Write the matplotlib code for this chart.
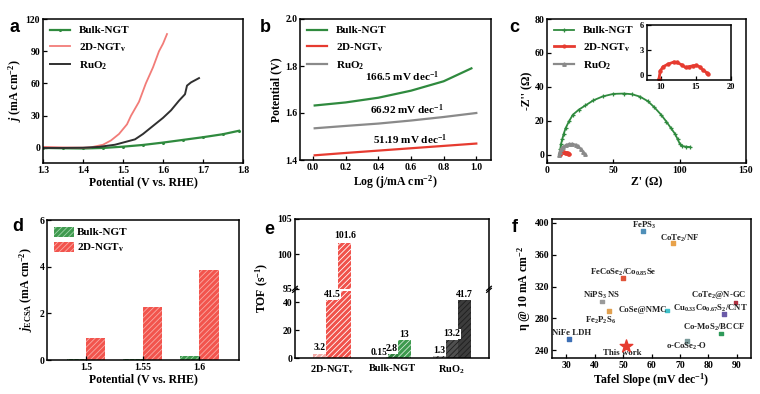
import numpy as np
import matplotlib
matplotlib.use('Agg')
import matplotlib.pyplot as plt
from matplotlib.patches import Patch

# ---- data ----
# (a) LSV curves
a_bulk_v = [1.30, 1.35, 1.40, 1.45, 1.50, 1.55, 1.60, 1.65, 1.70, 1.75, 1.79]
a_bulk_j = [0.0, -0.3, -0.5, 0.0, 1.2, 2.8, 5.0, 7.5, 10.0, 12.8, 16.0]
a_2d_v = [1.30, 1.35, 1.40, 1.42, 1.45, 1.47, 1.49, 1.51, 1.52, 1.54, 1.557, 1.575, 1.59, 1.60, 1.61]
a_2d_j = [1.0, 0.5, 0.3, 0.6, 3.0, 7.0, 13.0, 22.0, 30.0, 43.0, 60.0, 75.0, 90.0, 97.0, 106.0]
a_ru_v = [1.30, 1.35, 1.40, 1.44, 1.48, 1.50, 1.53, 1.55, 1.57, 1.60, 1.62, 1.64, 1.655, 1.66, 1.67, 1.69]
a_ru_j = [0.0, 0.0, 0.2, 1.0, 3.0, 5.0, 8.0, 13.0, 19.0, 28.0, 35.0, 44.0, 50.0, 58.0, 61.0, 65.0]

# (b) Tafel plots
b_x = [0.01, 0.2, 0.4, 0.6, 0.8, 0.97]
b_bulk = [1.632, 1.645, 1.665, 1.695, 1.735, 1.79]
b_x2 = [0.01, 0.2, 0.4, 0.6, 0.8, 1.0]
b_ru = [1.535, 1.545, 1.555, 1.568, 1.583, 1.60]
b_2d = [1.42, 1.43, 1.44, 1.45, 1.46, 1.47]
b_notes = ["166.5 mV dec$^{-1}$", "66.92 mV dec$^{-1}$", "51.19 mV dec$^{-1}$"]

# (c) Nyquist plots
c_bulk_x = [9.5, 10, 10.5, 11.5, 12.5, 14, 16.5, 19.5, 24, 29, 35, 42, 50, 58, 64, 70, 76, 81, 86, 90, 93.5, 96.5, 98.5, 100, 102, 105, 108]
c_bulk_y = [0.5, 3, 6, 9, 12, 15.5, 19.5, 23.5, 26.5, 29, 32, 34.3, 35.8, 36, 35.6, 34.2, 31.5, 27.8, 23.5, 19.4, 15.5, 12.2, 9, 6.5, 5, 4.6, 4.4]
c_ru_x = [9, 9.5, 10.5, 12, 14, 16.5, 19, 21.5, 23.5, 25.5, 27, 28.5]
c_ru_y = [0, 1.5, 3, 4.5, 5.5, 6.2, 6.3, 5.8, 4.8, 3.2, 1.7, 0.3]
c_2d_x = [9.7, 9.9, 10.3, 11.0, 11.8, 12.3, 13.0, 13.5, 14.0, 14.5, 15.0, 15.5, 16.0, 16.5, 16.7]
c_2d_y = [-0.5, 0.5, 1.0, 1.3, 1.55, 1.5, 1.2, 0.9, 1.0, 1.1, 1.15, 1.0, 0.6, 0.3, 0.1]

# (d) ECSA-normalised current
d_pot = ["1.5", "1.55", "1.6"]
d_bulk = [0.03, 0.05, 0.17]
d_2d = [0.95, 2.28, 3.87]

# (e) TOF
e_groups = ["2D-NGT$_\\mathrm{v}$", "Bulk-NGT", "RuO$_2$"]
e_vals = [[3.2, 41.5, 101.6], [0.15, 2.8, 13], [1.3, 13.2, 41.7]]
e_text = [["3.2", "41.5", "101.6"], ["0.15", "2.8", "13"], ["1.3", "13.2", "41.7"]]
e_colors = [["#f3aaa6", "#f0524b", "#f0524b"],
            ["#8cc79a", "#2f7f3e", "#3d9a4e"],
            ["#c2c2c2", "#505050", "#3c3c3c"]]

# (f) comparison
f_names = ["FePS$_3$", "CoTe$_2$/NF", "FeCoSe$_2$/Co$_{0.85}$Se", "NiPS$_3$ NS",
           "Fe$_2$P$_2$S$_6$", "CoSe@NMC", "NiFe LDH", "o-CoSe$_2$-O",
           "Co-MoS$_2$/BCCF", "Cu$_{0.33}$Co$_{0.67}$S$_2$/CNT", "CoTe$_2$@N-GC"]
f_tafel = [57, 67.5, 50, 42.5, 45, 65.5, 31, 72.5, 84.5, 85.5, 89.5]
f_eta = [390, 375, 331, 301, 289, 290, 254, 251, 261, 285, 300]
f_cols = ["#4f8fb8", "#e8a24a", "#e0553a", "#9a9a9a", "#e0a050", "#40c0c8",
          "#3d6fb5", "#7a9a9a", "#2f9a5a", "#6a5aa8", "#b03040"]
f_this = (51.19, 245)

green = "#2f8a3e"
red = "#e63b30"
gray = "#8a8a8a"

plt.rcParams['font.family'] = 'Liberation Serif'
plt.rcParams['font.weight'] = 'bold'
plt.rcParams['axes.labelweight'] = 'bold'
plt.rcParams['mathtext.fontset'] = 'custom'
plt.rcParams['mathtext.rm'] = 'Liberation Serif:bold'
plt.rcParams['mathtext.it'] = 'Liberation Serif:italic:bold'
plt.rcParams['mathtext.bf'] = 'Liberation Serif:bold'
plt.rcParams['hatch.linewidth'] = 0.6
plt.rcParams['axes.linewidth'] = 1.1

fig = plt.figure(figsize=(7.6, 3.94), dpi=100)


def fr(x0, y0, x1, y1):
    # pixel box -> figure fraction
    return [x0 / 760, 1 - y1 / 394, (x1 - x0) / 760, (y1 - y0) / 394]


def style(ax, fs=7):
    ax.tick_params(direction='in', labelsize=fs, width=0.9, length=3, pad=2)
    for lab in ax.get_xticklabels() + ax.get_yticklabels():
        lab.set_fontweight('bold')


def letter(x, y, s):
    fig.text(x / 760, 1 - y / 394, s, family='Liberation Sans', weight='bold',
             fontsize=13, ha='left', va='center')


lab_fs = 8.5
leg_fs = 8

# ---- a ----
ax = fig.add_axes(fr(43, 19, 243, 163))
ax.plot(a_bulk_v, a_bulk_j, '-o', color=green, lw=1.6, ms=1.2, label="Bulk-NGT")
ax.plot(a_2d_v, a_2d_j, '-', color="#f27c78", lw=1.3, label="2D-NGT$_\\mathrm{v}$")
ax.plot(a_ru_v, a_ru_j, '-', color="#303030", lw=1.4, label="RuO$_2$")
ax.set_xlim(1.3, 1.8)
ax.set_ylim(-14, 120)
ax.set_xticks([1.3, 1.4, 1.5, 1.6, 1.7, 1.8])
ax.set_xticklabels(["1.3", "1.4", "1.5", "1.6", "1.7", "1.8"])
ax.set_yticks([0, 30, 60, 90, 120])
ax.set_xlabel("Potential (V vs. RHE)", fontsize=lab_fs, labelpad=1)
ax.set_ylabel("$j$ (mA cm$^{-2}$)", fontsize=lab_fs, labelpad=1)
ax.legend(loc='upper left', frameon=False, fontsize=leg_fs, handlelength=1.8,
          borderaxespad=0.2, labelspacing=0.5)
style(ax)
letter(10, 28, "a")

# ---- b ----
ax = fig.add_axes(fr(300, 19, 491, 160))
ax.plot(b_x, b_bulk, color=green, lw=1.6, label="Bulk-NGT")
ax.plot(b_x2, b_2d, color=red, lw=1.6, label="2D-NGT$_\\mathrm{v}$")
ax.plot(b_x2, b_ru, color=gray, lw=1.6, label="RuO$_2$")
ax.text(0.545, 1.755, b_notes[0], fontsize=8, ha='center', va='center')
ax.text(0.576, 1.615, b_notes[1], fontsize=8, ha='center', va='center')
ax.text(0.596, 1.485, b_notes[2], fontsize=8, ha='center', va='center')
ax.set_xlim(-0.08, 1.09)
ax.set_ylim(1.4, 2.0)
ax.set_xticks([0, 0.2, 0.4, 0.6, 0.8, 1.0])
ax.set_xticklabels(["0.0", "0.2", "0.4", "0.6", "0.8", "1.0"])
ax.set_yticks([1.4, 1.6, 1.8, 2.0])
ax.set_yticklabels(["1.4", "1.6", "1.8", "2.0"])
ax.set_xlabel("Log (j/mA cm$^{-2}$)", fontsize=lab_fs, labelpad=1)
ax.set_ylabel("Potential (V)", fontsize=lab_fs, labelpad=2)
ax.legend(loc='upper left', frameon=False, fontsize=leg_fs, handlelength=1.8,
          borderaxespad=0.2, labelspacing=0.5)
style(ax)
letter(260, 28, "b")

# ---- c ----
ax = fig.add_axes(fr(547, 19, 746, 163))
ax.plot(c_bulk_x, c_bulk_y, '-+', color=green, lw=1.3, ms=3, mew=0.9, label="Bulk-NGT")
ax.plot(c_2d_x, c_2d_y, '-o', color=red, lw=2.0, ms=2, label="2D-NGT$_\\mathrm{v}$")
ax.plot(c_ru_x, c_ru_y, '-^', color=gray, lw=1.6, ms=2.5, label="RuO$_2$")
ax.set_xlim(0, 150)
ax.set_ylim(-5, 80)
ax.set_xticks([0, 50, 100, 150])
ax.set_yticks([0, 20, 40, 60, 80])
ax.set_xlabel("Z' (\u03a9)", fontsize=lab_fs, labelpad=1)
ax.set_ylabel("-Z'' (\u03a9)", fontsize=lab_fs, labelpad=1)
ax.legend(loc='upper left', frameon=False, fontsize=leg_fs, handlelength=1.8,
          borderaxespad=0.2, labelspacing=0.5)
style(ax)
letter(509, 28, "c")

ins = fig.add_axes(fr(647, 25, 731, 80))
ins.plot(c_2d_x, c_2d_y, '-o', color=red, lw=2.0, ms=2.2)
ins.set_xlim(8, 20)
ins.set_ylim(-0.6, 6)
ins.set_xticks([10, 15, 20])
ins.set_yticks([0, 3, 6])
style(ins, fs=6)

# ---- d ----
ax = fig.add_axes(fr(47, 220, 239, 360))
xd = np.arange(len(d_pot))
w = 0.34
ax.bar(xd - w / 2, d_bulk, w, color="#3f9a4f", edgecolor="#9fd4a8", hatch='//////', lw=0)
ax.bar(xd + w / 2, d_2d, w, color="#f2544d", edgecolor="#f9aaa5", hatch='//////', lw=0)
ax.set_xlim(-0.69, 2.7)
ax.set_ylim(0, 6)
ax.set_xticks(xd)
ax.set_xticklabels(d_pot)
ax.set_yticks([0, 2, 4, 6])
ax.set_xlabel("Potential (V vs. RHE)", fontsize=lab_fs, labelpad=1)
ax.set_ylabel("$j_\\mathrm{ECSA}$ (mA cm$^{-2}$)", fontsize=lab_fs, labelpad=3)
hd = [Patch(facecolor="#3f9a4f", edgecolor="#9fd4a8", hatch='//////', lw=0),
      Patch(facecolor="#f2544d", edgecolor="#f9aaa5", hatch='//////', lw=0)]
ax.legend(hd, ["Bulk-NGT", "2D-NGT$_\\mathrm{v}$"], loc='upper left', frameon=False,
          fontsize=leg_fs, handlelength=1.8, handleheight=1.0, borderaxespad=0.2,
          labelspacing=0.4, handletextpad=0.3)
style(ax)
letter(12, 226, "d")

# ---- e (broken axis) ----
axu = fig.add_axes(fr(295, 219, 489, 289))
axl = fig.add_axes(fr(295, 291, 489, 358))
xe = np.arange(len(e_groups))
we = 0.21
for gi in range(len(e_groups)):
    for bi in range(3):
        xpos = xe[gi] + (bi - 1) * we
        v = e_vals[gi][bi]
        c = e_colors[gi][bi]
        hc = "#ffffff" if gi == 0 else "#1e1e1e" if gi == 2 else "#cfe8d4"
        for axx in (axu, axl):
            axx.bar(xpos, v, we, color=c, edgecolor=hc, hatch='//////', lw=0)
        tgt = axu if v > 95 else axl
        tgt.text(xpos, v + (0.4 if v > 95 else 0.8), e_text[gi][bi], ha='center', va='bottom',
                 fontsize=7, bbox=dict(facecolor='white', edgecolor='none', pad=0.3))
for axx in (axu, axl):
    axx.set_xlim(-0.62, 2.62)
    style(axx)
axu.set_ylim(95, 105)
axu.set_yticks([95, 100, 105])
axl.set_ylim(0, 48)
axl.set_yticks([0, 20, 40])
axu.spines['bottom'].set_visible(False)
axl.spines['top'].set_visible(False)
axu.tick_params(bottom=False, labelbottom=False)
axl.set_xticks(xe)
axl.set_xticklabels(e_groups, fontsize=7.5)
axl.tick_params(axis='x', length=0, pad=4)
fig.text(262 / 760, 1 - 288 / 394, "TOF (s$^{-1}$)", rotation=90, fontsize=lab_fs,
         ha='center', va='center')
dk = 0.012
for xs in (0, 1):
    axl.plot([xs - dk, xs + dk], [1 - 0.02, 1 + 0.04], transform=axl.transAxes,
             color='k', lw=0.9, clip_on=False)
    axl.plot([xs - dk, xs + dk], [1 + 0.01, 1 + 0.07], transform=axl.transAxes,
             color='k', lw=0.9, clip_on=False)
letter(264, 230, "e")

# ---- f ----
ax = fig.add_axes(fr(552, 219, 751, 358))
ax.scatter(f_tafel, f_eta, s=7, c=f_cols, marker='s', zorder=3)
ax.scatter([f_this[0]], [f_this[1]], s=90, c=red, marker='*', zorder=4)
f_off = [(0.5, 7), (2.3, 5), (0, 7), (0, 8), (-3, -12), (-8.5, 1), (1, 7), (0, -6),
         (-2.3, 7), (-4.8, 7), (-6, 9)]
for i in range(len(f_names)):
    ax.text(f_tafel[i] + f_off[i][0], f_eta[i] + f_off[i][1], f_names[i], fontsize=6.3,
            ha='center', va='center', color='#222222')
ax.text(f_this[0] - 1.5, f_this[1] - 9, "This work", fontsize=6.3, ha='center',
        va='center', color='#222222')
ax.set_xlim(25, 95)
ax.set_ylim(230, 405)
ax.set_xticks([30, 40, 50, 60, 70, 80, 90])
ax.set_yticks([240, 280, 320, 360, 400])
ax.set_xlabel("Tafel Slope (mV dec$^{-1}$)", fontsize=lab_fs, labelpad=1)
ax.set_ylabel("\u03b7 @ 10 mA cm$^{-2}$", fontsize=lab_fs, labelpad=1)
style(ax)
letter(512, 228, "f")

fig.savefig("out.png", dpi=100, facecolor='white')
